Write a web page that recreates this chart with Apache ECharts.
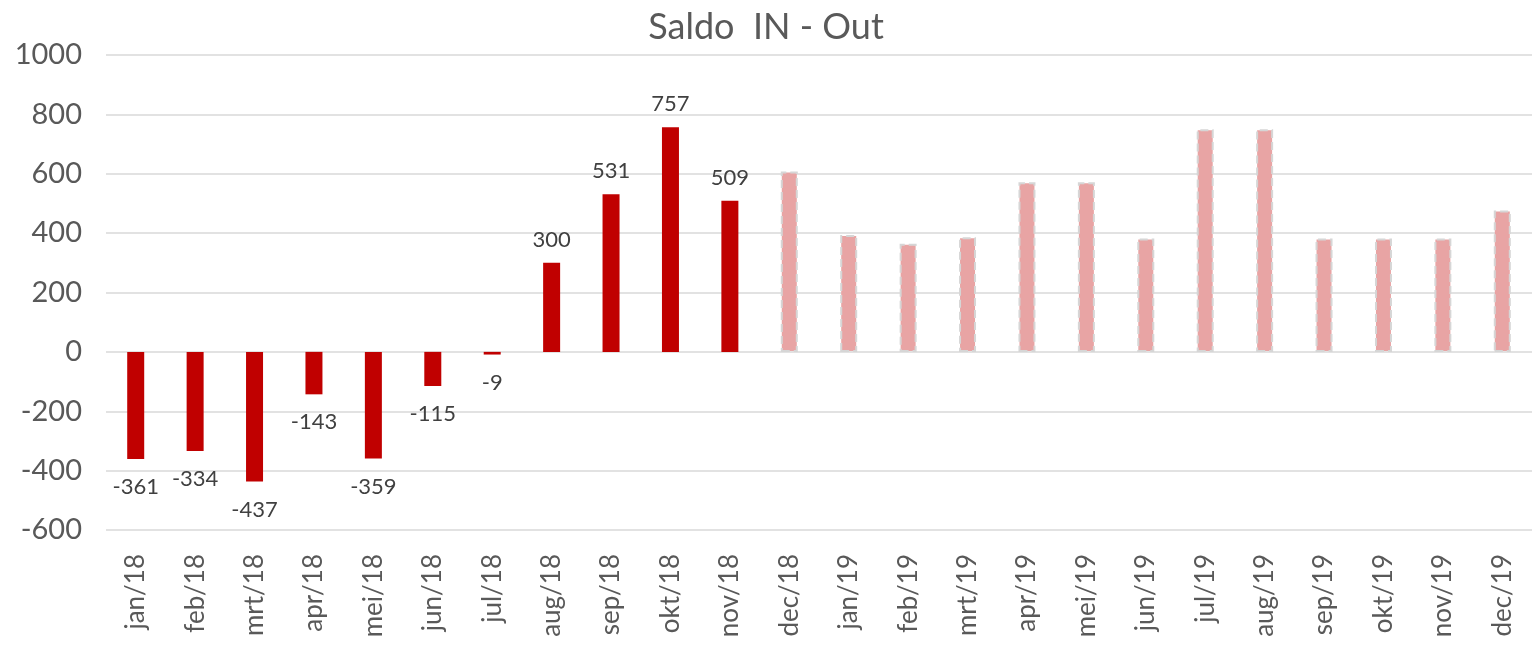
<!DOCTYPE html>
<html>
<head>
<meta charset="utf-8">
<script src="https://cdn.jsdelivr.net/npm/echarts@6/dist/echarts.min.js"></script>
<style>
html, body { margin: 0; padding: 0; background: #fff; }
#chart { width: 1532px; height: 655px; }
</style>
</head>
<body>
<div id="chart"></div>
<script>
var months = ['jan/18', 'feb/18', 'mrt/18', 'apr/18', 'mei/18', 'jun/18', 'jul/18', 'aug/18', 'sep/18', 'okt/18', 'nov/18', 'dec/18',
    'jan/19', 'feb/19', 'mrt/19', 'apr/19', 'mei/19', 'jun/19', 'jul/19', 'aug/19', 'sep/19', 'okt/19', 'nov/19', 'dec/19'];
// gerealiseerd
var actual = [-361, -334, -437, -143, -359, -115, -9, 300, 531, 757, 509];
// prognose
var forecast = [608, 394, 364, 386, 571, 571, 382, 750, 750, 382, 382, 382, 476];
var yTicks = [-600, -400, -200, 0, 200, 400, 600, 800, 1000];

window.onload = function () {
    var myChart = echarts.init(document.getElementById('chart'));

    var actualData = months.map(function (m, i) {
        if (i >= actual.length) return null;
        var v = actual[i];
        return {
            value: v,
            label: { position: v < 0 ? 'bottom' : 'top', distance: v < 0 ? 17 : 12 }
        };
    });
    var offset = months.length - forecast.length;
    var forecastData = months.map(function (m, i) {
        return i < offset ? null : forecast[i - offset];
    });

    var option = {
        animation: false,
        title: {
            text: 'Saldo  IN - Out',
            left: 'center',
            top: 4,
            textStyle: {
                fontFamily: 'Lato',
                fontSize: 36,
                fontWeight: 'normal',
                color: '#595959'
            }
        },
        grid: {
            left: 106,
            top: 55,
            width: 1444,
            height: 475
        },
        xAxis: {
            type: 'category',
            data: months,
            axisLine: { show: false },
            axisTick: { show: false },
            axisLabel: {
                rotate: 90,
                margin: 24,
                interval: 0,
                fontFamily: 'Lato',
                fontSize: 26,
                color: '#595959'
            }
        },
        yAxis: {
            type: 'value',
            min: yTicks[0],
            max: yTicks[yTicks.length - 1],
            interval: 200,
            axisLine: { show: false },
            axisTick: { show: false },
            axisLabel: {
                margin: 24,
                fontFamily: 'Lato',
                fontSize: 29,
                color: '#595959',
                formatter: function (v) { return String(v); }
            },
            splitLine: {
                lineStyle: { color: '#d9d9d9', width: 1.5 }
            }
        },
        series: [{
            name: 'gerealiseerd',
            type: 'bar',
            barWidth: 17,
            barGap: '-100%',
            itemStyle: { color: '#c00000' },
            label: {
                show: true,
                fontFamily: 'Lato',
                fontSize: 22,
                color: '#404040'
            },
            data: actualData
        }, {
            name: 'prognose',
            type: 'bar',
            barWidth: 17,
            itemStyle: {
                color: '#e8a4a4',
                borderColor: '#d6d6d6',
                borderWidth: 2,
                borderType: [8, 4]
            },
            data: forecastData
        }]
    };
    myChart.setOption(option);
};
</script>
</body>
</html>
